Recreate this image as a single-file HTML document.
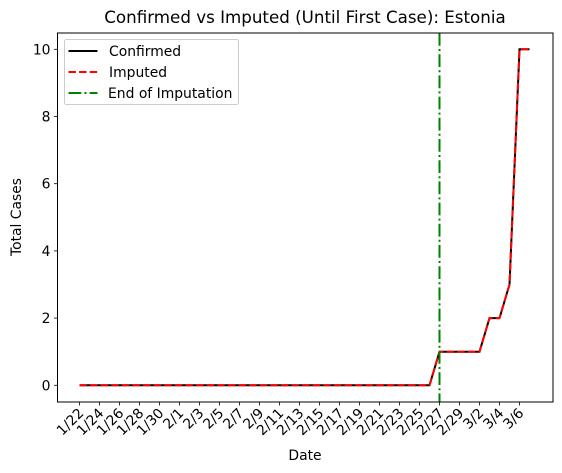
<!DOCTYPE html>
<html><head><meta charset="utf-8"><style>body{margin:0;background:#fff}svg{font-family:"DejaVu Sans","Liberation Sans",sans-serif}</style></head>
<body>
<svg id="chart" width="562" height="473" xmlns="http://www.w3.org/2000/svg" style="position:absolute;left:0;top:0">
<rect width="562" height="473" fill="#fff"/>
<g id="plot"></g>
</svg>
<script>
const dates = ["1/22","1/23","1/24","1/25","1/26","1/27","1/28","1/29","1/30","1/31","2/1","2/2","2/3","2/4","2/5","2/6","2/7","2/8","2/9","2/10","2/11","2/12","2/13","2/14","2/15","2/16","2/17","2/18","2/19","2/20","2/21","2/22","2/23","2/24","2/25","2/26","2/27","2/28","2/29","3/1","3/2","3/3","3/4","3/5","3/6","3/7"];
const confirmed = [0,0,0,0,0,0,0,0,0,0,0,0,0,0,0,0,0,0,0,0,0,0,0,0,0,0,0,0,0,0,0,0,0,0,0,0,1,1,1,1,1,2,2,3,10,10];
const imputed = [0,0,0,0,0,0,0,0,0,0,0,0,0,0,0,0,0,0,0,0,0,0,0,0,0,0,0,0,0,0,0,0,0,0,0,0,1,1,1,1,1,2,2,3,10,10];
const yTicks = [0,2,4,6,8,10];
const endIndex = 36;

const L=57.5,R=553,T=33,B=402;
const x = i => 79.5 + i*10;
const y = v => 385.3 - v*33.6;
const g = document.getElementById('plot');
const NS='http://www.w3.org/2000/svg';
function mk(tag, attrs, parent){const e=document.createElementNS(NS,tag);for(const k in attrs)e.setAttribute(k,attrs[k]);(parent||g).appendChild(e);return e;}

yTicks.forEach(v=>{
  const t=mk('line',{x1:L-3.5,x2:L,y1:y(v),y2:y(v),stroke:'#000','stroke-width':0.8});
  
  
  const l=mk('text',{x:L-7,y:y(v)+5,'text-anchor':'end','font-size':13.9});
  l.textContent=v;
  
  
});
dates.forEach((d,i)=>{
  if(i%2) return;
  const t=mk('line',{x1:x(i),x2:x(i),y1:B,y2:B+3.5,stroke:'#000','stroke-width':0.8});
  
  
  const l=mk('text',{x:0,y:0,'text-anchor':'end','font-size':13.9,transform:`translate(${x(i)+5},${B+12}) rotate(-45)`});
  l.textContent=d;
  
  
});
function pts(arr){return arr.map((v,i)=>x(i)+','+y(v)).join(' ');}
const c=mk('polyline',{points:pts(confirmed),fill:'none',stroke:'#000','stroke-width':2});


const im=mk('polyline',{points:pts(imputed),fill:'none',stroke:'#ff0000','stroke-width':2,'stroke-dasharray':'7.4,3.2'});


const vl=mk('line',{x1:x(endIndex),x2:x(endIndex),y1:T,y2:B,stroke:'#008000','stroke-width':2,'stroke-dasharray':'12.8,3.2,2,3.2'});


const fr=mk('rect',{x:L,y:T,width:R-L,height:B-T,fill:'none',stroke:'#000','stroke-width':1});


</script>
<svg style="position:absolute;left:0;top:0" width="562" height="473" xmlns="http://www.w3.org/2000/svg">
<text x="305" y="23" text-anchor="middle" font-size="16.7">Confirmed vs Imputed (Until First Case): Estonia</text>
<text x="305" y="460" text-anchor="middle" font-size="13.9">Date</text>
<text transform="translate(21,217) rotate(-90)" text-anchor="middle" font-size="13.9">Total Cases</text>
<g>
<rect x="64.5" y="39.5" width="174" height="65" rx="2" fill="#fff" fill-opacity="0.8" stroke="#ccc"/>
<line x1="68.5" x2="97.5" y1="51" y2="51" stroke="#000" stroke-width="2"/>
<text x="109" y="56" font-size="13.9">Confirmed</text>
<line x1="68.5" x2="97.5" y1="72" y2="72" stroke="#f00" stroke-width="2" stroke-dasharray="7.4,3.2"/>
<text x="109" y="77" font-size="13.9">Imputed</text>
<line x1="68.5" x2="97.5" y1="93" y2="93" stroke="#008000" stroke-width="2" stroke-dasharray="12.8,3.2,2,3.2"/>
<text x="108" y="98" font-size="13.9">End of Imputation</text>
</g>
</svg>
</body></html>
